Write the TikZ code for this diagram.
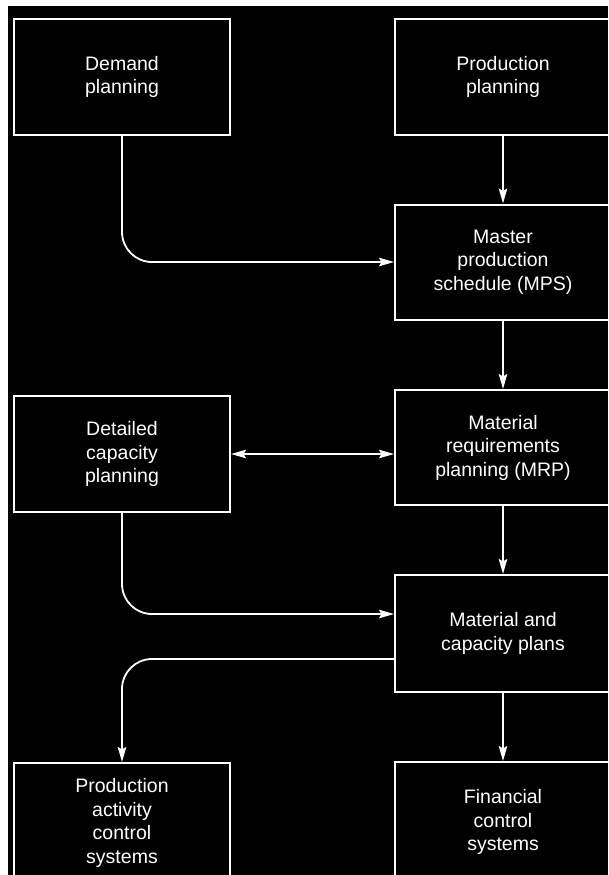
\documentclass[tikz,border=0pt]{standalone}
\usepackage{fontspec}
\setmainfont{Liberation Sans}
\usetikzlibrary{arrows.meta}
\begin{document}
\begin{tikzpicture}[x=1pt,y=-1pt,
  box/.style={draw=white, line width=2pt, rectangle, minimum width=216pt, minimum height=115pt,
    text=white, align=center, font=\fontsize{19.5}{23.5}\selectfont, inner sep=0pt},
  tip/.style={Stealth[length=15pt,width=8.5pt,inset=2.5pt]},
  conn/.style={draw=white, line width=1.8pt, -{Stealth[length=15pt,width=8.5pt,inset=2.5pt]}},
  conn2/.style={draw=white, line width=1.8pt, {Stealth[length=15pt,width=8.5pt,inset=2.5pt]}-{Stealth[length=15pt,width=8.5pt,inset=2.5pt]}}
]
\useasboundingbox (0,0) rectangle (608,875);
\clip (0,0) rectangle (608,875);
\fill[white] (0,0) rectangle (608,875);
\fill[black] (8,6) rectangle (608,875);

\node[box] (dp) at (122,77) {Demand\\planning};
\node[box] (pp) at (503,77) {Production\\planning};
\node[box] (mps) at (503,262) {Master\\production\\schedule (MPS)};
\node[box] (mrp) at (503,447.5) {Material\\requirements\\planning (MRP)};
\node[box, minimum height=116pt] (dcp) at (122,454) {Detailed\\capacity\\planning};
\node[box, minimum height=117pt] (mcp) at (503,633.5) {Material and\\capacity plans};
\node[box, minimum height=120pt] (pac) at (122,823) {Production\\activity\\control\\systems};
\node[box, minimum height=120pt] (fcs) at (503,822) {Financial\\control\\systems};

\draw[conn] (pp.south) -- (mps.north);
\draw[conn, rounded corners=30pt] (dp.south) |- (mps.west);
\draw[conn] (mps.south) -- (mrp.north);
\draw[conn2] (dcp.east) -- (dcp.east -| mrp.west);
\draw[conn] (mrp.south) -- (mcp.north);
\draw[conn, rounded corners=30pt] (dcp.south) |- ([yshift=19.5pt]mcp.west);
\draw[conn, rounded corners=30pt] ([yshift=-25.5pt]mcp.west) -| (pac.north);
\draw[conn] (mcp.south) -- (fcs.north);
\end{tikzpicture}
\end{document}
